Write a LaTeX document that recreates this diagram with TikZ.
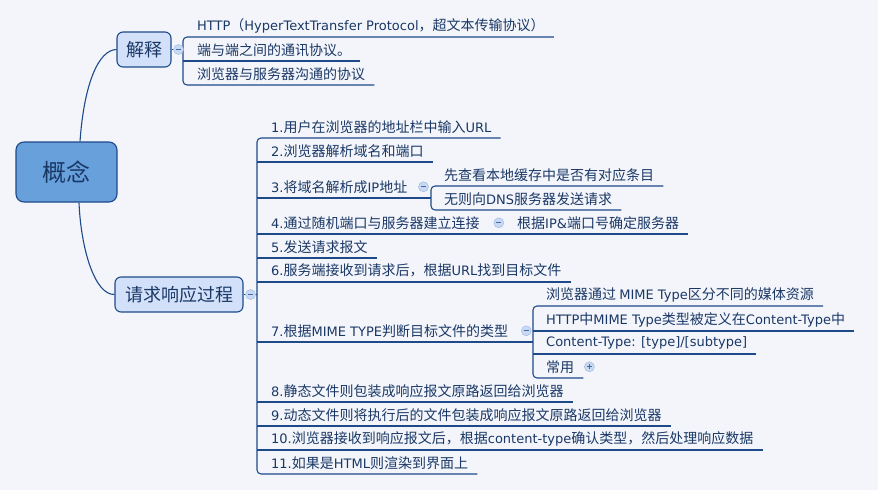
\documentclass[tikz,border=0pt]{standalone}
\usepackage{fontspec}
\setmainfont{Noto Sans CJK SC}
\newfontfamily\enfont{DejaVu Sans}
\newcommand{\en}[1]{{\enfont\fontsize{13}{16}\selectfont #1}}
\definecolor{bg}{RGB}{243,245,251}
\definecolor{ink}{RGB}{26,56,102}
\definecolor{edge}{RGB}{30,74,138}
\definecolor{rootfill}{RGB}{104,160,220}
\definecolor{subfill}{RGB}{210,224,250}
\definecolor{foldfill}{RGB}{202,217,243}
\definecolor{folddraw}{RGB}{150,180,226}

\begin{document}
\begin{tikzpicture}[x=1pt, y=-1pt,
    branch/.style={edge, line width=1.1pt},
    topic/.style={draw=edge, line width=1.1pt, rounded corners=6pt, text=ink, inner sep=0pt},
    leaf/.style={anchor=south west, inner xsep=9pt, inner ysep=0pt, minimum height=22pt, text=ink, font=\fontsize{14}{17}\selectfont},
    fold/.style={circle, draw=folddraw, fill=foldfill, minimum size=10pt, inner sep=0pt,
        path picture={\draw[edge!70!folddraw, line width=0.8pt] (-2.5pt,0) -- (2.5pt,0);}},
    unfold/.style={fold,
        path picture={\draw[edge!70!folddraw, line width=0.8pt] (-2.5pt,0) -- (2.5pt,0) (0,-2.5pt) -- (0,2.5pt);}}]
    \fill[bg] (0,0) rectangle (878,490);

    \node[topic, fill=rootfill, minimum width=101pt, minimum height=60pt, rounded corners=8pt, font=\fontsize{24}{28}\selectfont] (ctr) at (66.5,172) {概念};
    \node[topic, fill=subfill, minimum width=54pt, minimum height=35pt, font=\fontsize{18}{22}\selectfont] (expl) at (144,49.5) {解释};
    \node[topic, fill=subfill, minimum width=128pt, minimum height=35pt, font=\fontsize{18}{22}\selectfont] (req) at (179,294.5) {请求响应过程};

    \coordinate (eb) at (183,0);
    \coordinate (rb) at (257,0);
    \coordinate (b3) at (431,0);
    \coordinate (b7) at (533,0);

    \node[leaf] (e1) at (188,37) {\en{HTTP}（\en{HyperTextTransfer Protocol}，超文本传输协议）};
    \node[leaf] (e2) at (188,61) {端与端之间的通讯协议。};
    \node[leaf] (e3) at (188,85) {浏览器与服务器沟通的协议};

    \node[leaf] (s1) at (262,138) {\en{1.}用户在浏览器的地址栏中输入\en{URL}};
    \node[leaf] (s2) at (262,162) {\en{2.}浏览器解析域名和端口};
    \node[leaf] (s3) at (262,198) {\en{3.}将域名解析成\en{IP}地址};
    \node[leaf] (s4) at (262,234) {\en{4.}通过随机端口与服务器建立连接};
    \node[leaf] (s5) at (262,258) {\en{5.}发送请求报文};
    \node[leaf] (s6) at (262,282) {\en{6.}服务端接收到请求后，根据\en{URL}找到目标文件};
    \node[leaf] (s7) at (262,342) {\en{7.}根据\en{MIME TYPE}判断目标文件的类型};
    \node[leaf] (s8) at (262,402) {\en{8.}静态文件则包装成响应报文原路返回给浏览器};
    \node[leaf] (s9) at (262,426) {\en{9.}动态文件则将执行后的文件包装成响应报文原路返回给浏览器};
    \node[leaf] (s10) at (262,450) {\en{10.}浏览器接收到响应报文后，根据\en{content-type}确认类型，然后处理响应数据};
    \node[leaf] (s11) at (262,474) {\en{11.}如果是\en{HTML}则渲染到界面上};

    \node[leaf] (s3a) at (435,186) {先查看本地缓存中是否有对应条目};
    \node[leaf] (s3b) at (435,210) {无则向\en{DNS}服务器发送请求};
    \node[leaf] (s4a) at (508,234) {根据\en{IP\&}端口号确定服务器};
    \node[leaf] (s7a) at (537,306) {浏览器通过 \en{MIME Type}区分不同的媒体资源};
    \node[leaf] (s7b) at (537,331) {\en{HTTP}中\en{MIME Type}类型被定义在\en{Content-Type}中};
    \node[leaf] (s7c) at (537,354) {\en{Content-Type: [type]/[subtype]}};
    \node[leaf] (s7d) at (537,378) {常用};

    \draw[branch] ([xshift=13.5pt]ctr.north) .. controls (84,85) and (98,50) .. (expl.west);
    \draw[branch] ([xshift=12.5pt]ctr.south) .. controls (81,250) and (95,295) .. (req.west);

    \draw[branch] (expl.east) -- (expl.east -| eb);
    \draw[branch, rounded corners=4pt] (e1.south east) -- (e1.south west -| eb) |- (e3.south east);
    \draw[branch] (e2.south west -| eb) -- (e2.south east);

    \draw[branch] (req.east) -- (req.east -| rb);
    \draw[branch, rounded corners=4pt] (s1.south east) -- (s1.south west -| rb) |- (s11.south east);
    \foreach \n in {s2,s5,s6,s8,s9,s10}
        \draw[branch] (\n.south west -| rb) -- (\n.south east);
    \draw[branch] (s3.south west -| rb) -- (s3.south west -| b3);
    \draw[branch, rounded corners=4pt] (s3a.south east) -- (s3a.south west -| b3) |- (s3b.south east);
    \draw[branch] (s4.south west -| rb) -- (s4a.south east);
    \draw[branch] (s7.south west -| rb) -- (s7.south west -| b7);
    \draw[branch, rounded corners=4pt] (s7a.south east) -- (s7a.south west -| b7) |- (s7d.south east);
    \foreach \n in {s7b,s7c}
        \draw[branch] (\n.south west -| b7) -- (\n.south east);

    \node[fold] (fe) at ([xshift=7pt]expl.east) {};
    \node[fold] (fr) at ([xshift=7pt]req.east) {};
    \node[fold] (f3) at ([xshift=7pt]s3.east) {};
    \node[fold] (f4) at ([xshift=10pt]s4.east) {};
    \node[fold] (f7) at ([xshift=9pt]s7.east) {};
    \node[unfold] (f7d) at ([xshift=6pt]s7d.east) {};
\end{tikzpicture}
\end{document}
